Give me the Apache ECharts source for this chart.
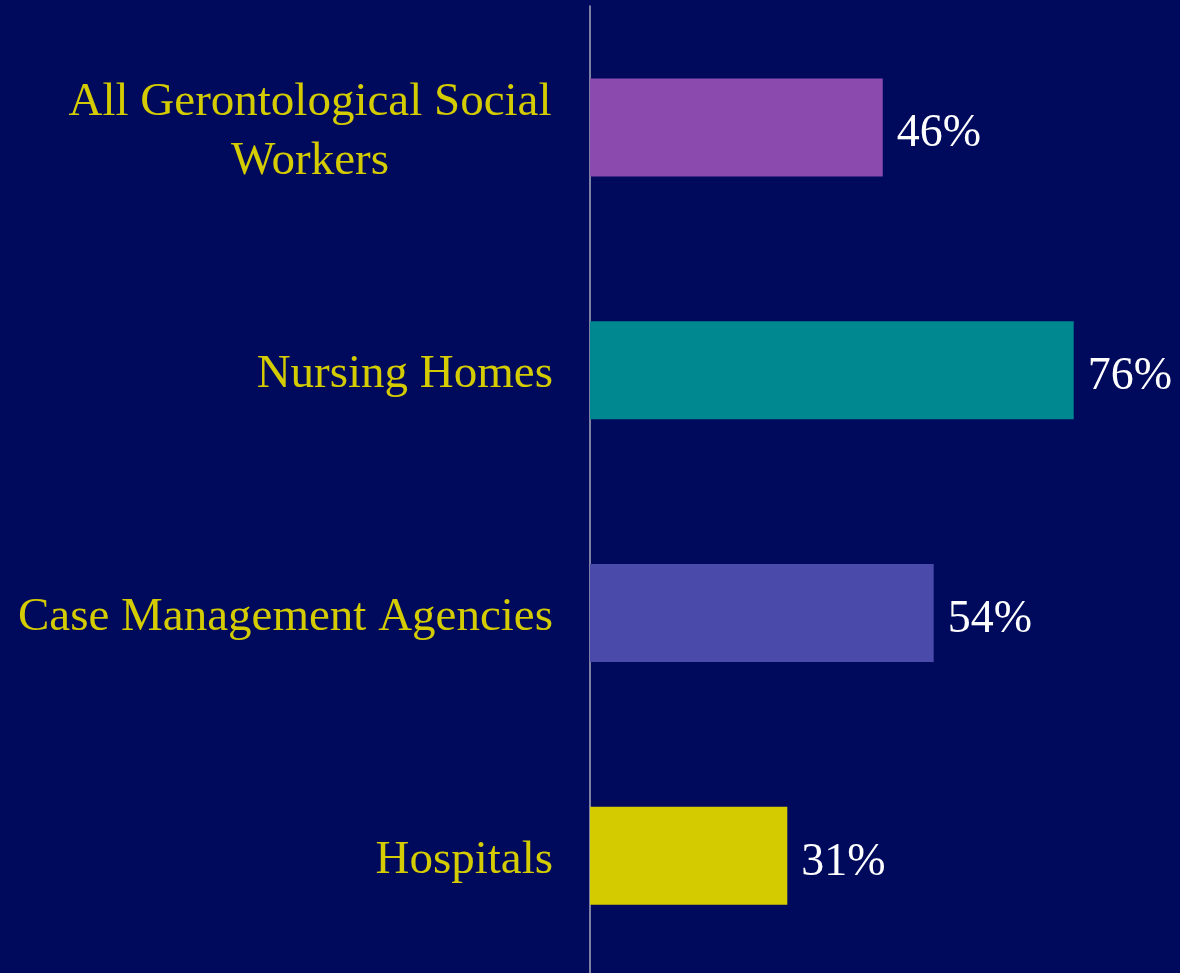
<!DOCTYPE html>
<html>
<head>
<meta charset="utf-8">
<script src="https://cdn.jsdelivr.net/npm/echarts@6/dist/echarts.min.js"></script>
<style>
html,body{margin:0;padding:0;background:#000a5c;}
#chart{width:1180px;height:973px;}
</style>
</head>
<body>
<div id="chart"></div>
<script>
const categories = ['All Gerontological Social\nWorkers', 'Nursing Homes', 'Case Management Agencies', 'Hospitals'];
const values = [46, 76, 54, 31];

const BAR_COLORS = ['#8a4aae', '#008890', '#4a4aaa', '#d4cc00'];
const FONT = '"Liberation Serif", "Times New Roman", serif';

const chart = echarts.init(document.getElementById('chart'));
chart.setOption({
  backgroundColor: '#000a5c',
  animation: false,
  grid: { left: 590, top: 6, right: 0, height: 971, containLabel: false, outerBoundsMode: 'none' },
  xAxis: { type: 'value', min: 0, max: 92.7, show: false },
  yAxis: {
    type: 'category',
    inverse: true,
    data: categories,
    axisLine: { show: true, lineStyle: { color: '#a8a8b8', width: 1.5 } },
    axisTick: { show: false },
    splitLine: { show: false },
    axisLabel: {
      margin: 37,
      color: '#d4cc00',
      fontFamily: FONT,
      fontSize: 47,
      lineHeight: 59,
      padding: [10, 0, 0, 0],
      formatter: function (v) {
        if (v.indexOf('\n') >= 0) {
          return v.split('\n').map(function (s) { return '{c|' + s + '}'; }).join('\n');
        }
        return v;
      },
      rich: {
        c: { width: 486, align: 'center', color: '#d4cc00', fontFamily: FONT, fontSize: 47, lineHeight: 59 }
      }
    }
  },
  series: [{
    type: 'bar',
    data: values.map(function (v, i) { return { value: v, itemStyle: { color: BAR_COLORS[i] } }; }),
    barWidth: 98,
    label: {
      show: true,
      position: 'right',
      distance: 14,
      offset: [0, 7],
      color: '#ffffff',
      fontFamily: FONT,
      fontSize: 46,
      formatter: '{c}%'
    }
  }]
});
</script>
</body>
</html>
